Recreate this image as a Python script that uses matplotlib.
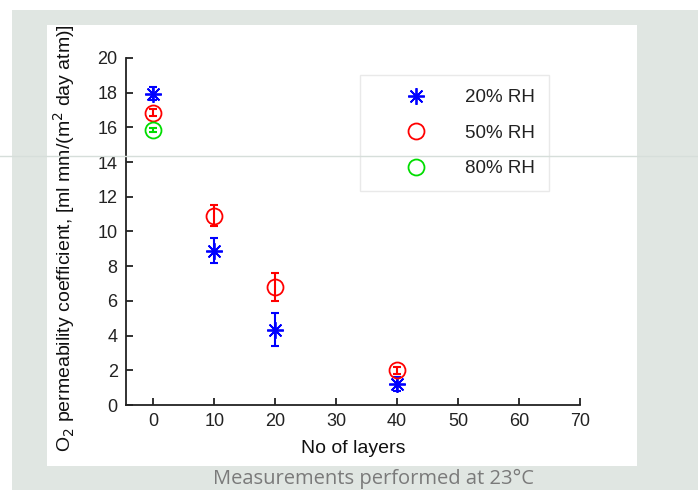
import matplotlib
matplotlib.use("Agg")

import matplotlib.pyplot as plt
from matplotlib.lines import Line2D
from matplotlib.patches import Rectangle

plt.rcParams["font.family"] = ["Liberation Sans", "DejaVu Sans"]

# ── Data ──────────────────────────────────────────────────────────────────────
layers_20 = [0, 10, 20, 40]
perm_20   = [17.95, 8.9, 4.35, 1.2]
err_20    = [0.35, 0.7, 0.95, 0.4]

layers_50 = [0, 10, 20, 40]
perm_50   = [16.85, 10.9, 6.8, 2.0]
err_50    = [0.2, 0.6, 0.8, 0.2]

layers_80 = [0]
perm_80   = [15.85]
err_80    = [0.1]

labels = ["20% RH", "50% RH", "80% RH"]
x_ticks = [0, 10, 20, 30, 40, 50, 60, 70]
y_ticks = [0, 2, 4, 6, 8, 10, 12, 14, 16, 18, 20]

BG_GRAY = "#E0E6E2"
GREEN = "#00DD00"
ASTER = (8, 2, 0)
MS_AST = 12
MS_CIR = 11.5

fig = plt.figure(figsize=(6.98, 4.90), dpi=100)
fig.patch.set_facecolor("white")

# page background and white panel
fig.add_artist(Rectangle((12 / 698, 0), 1, 1 - 10 / 490, transform=fig.transFigure,
                         facecolor=BG_GRAY, edgecolor="none", zorder=-3))
fig.add_artist(Rectangle((47 / 698, 1 - 466 / 490), (637 - 47) / 698, (466 - 25) / 490,
                         transform=fig.transFigure, facecolor="white",
                         edgecolor="none", zorder=-2))

ax = fig.add_axes([126 / 698, 85 / 490, (580 - 126) / 698, (405 - 58) / 490])
ax.patch.set_alpha(0)

ax.errorbar(layers_20, perm_20, yerr=err_20, fmt="none", ecolor="blue",
            elinewidth=1.5, capsize=3, capthick=1.5)
ax.plot(layers_20, perm_20, linestyle="none", marker=ASTER, markersize=MS_AST,
        markeredgecolor="blue", markeredgewidth=1.3, color="blue")

ax.errorbar(layers_50, perm_50, yerr=err_50, fmt="none", ecolor="red",
            elinewidth=1.5, capsize=3, capthick=1.5)
ax.plot(layers_50, perm_50, linestyle="none", marker="o", markersize=MS_CIR,
        markerfacecolor="none", markeredgecolor="red", markeredgewidth=1.3)

ax.errorbar(layers_80, perm_80, yerr=err_80, fmt="none", ecolor=GREEN,
            elinewidth=1.5, capsize=3, capthick=1.5)
ax.plot(layers_80, perm_80, linestyle="none", marker="o", markersize=MS_CIR,
        markerfacecolor="none", markeredgecolor=GREEN, markeredgewidth=1.3)

ax.set_xlim(-4.5, 70)
ax.set_ylim(0, 20)
ax.set_xticks(x_ticks)
ax.set_yticks(y_ticks)
ax.tick_params(direction="in", length=5, width=1.3, labelsize=13, colors="#222222",
               pad=6)
for side in ["top", "right"]:
    ax.spines[side].set_visible(False)
for side in ["left", "bottom"]:
    ax.spines[side].set_linewidth(1.3)
    ax.spines[side].set_color("#222222")

ax.set_xlabel("No of layers", fontsize=14, color="#111111", labelpad=7)
ax.set_ylabel("O$_2$ permeability coefficient, [ml mm/(m$^2$ day atm)]",
              fontsize=14, color="#111111")
ax.yaxis.set_label_coords(-(126 - 77) / (580 - 126), 0.48)

handles = [
    Line2D([], [], linestyle="none", marker=ASTER, markersize=MS_AST,
           markeredgecolor="blue", markeredgewidth=1.3, color="blue"),
    Line2D([], [], linestyle="none", marker="o", markersize=MS_CIR,
           markerfacecolor="none", markeredgecolor="red", markeredgewidth=1.3),
    Line2D([], [], linestyle="none", marker="o", markersize=MS_CIR,
           markerfacecolor="none", markeredgecolor=GREEN, markeredgewidth=1.3),
]
leg = fig.legend(handles, labels, loc="upper left",
                 bbox_to_anchor=(360 / 698, 1 - 75 / 490),
                 fontsize=13.5, frameon=True, fancybox=False,
                 handlelength=4.5, handletextpad=0.35, borderpad=0.75,
                 labelspacing=0.98, borderaxespad=0, markerscale=1.0)
leg.get_frame().set_edgecolor("#E4E4E4")
leg.get_frame().set_linewidth(1.0)
for t in leg.get_texts():
    t.set_color("#222222")

# faint page seam across the picture
fig.add_artist(Line2D([0, 1], [1 - 156 / 490, 1 - 156 / 490], transform=fig.transFigure,
                      color="#D6DEDA", linewidth=1.0, zorder=10))

fig.text(373 / 698, 1 - 479 / 490, "Measurements performed at 23°C",
         ha="center", va="center", fontsize=14.5, color="#7A7A7A",
         family=["Open Sans", "DejaVu Sans"])

fig.savefig("out.png", dpi=100)
